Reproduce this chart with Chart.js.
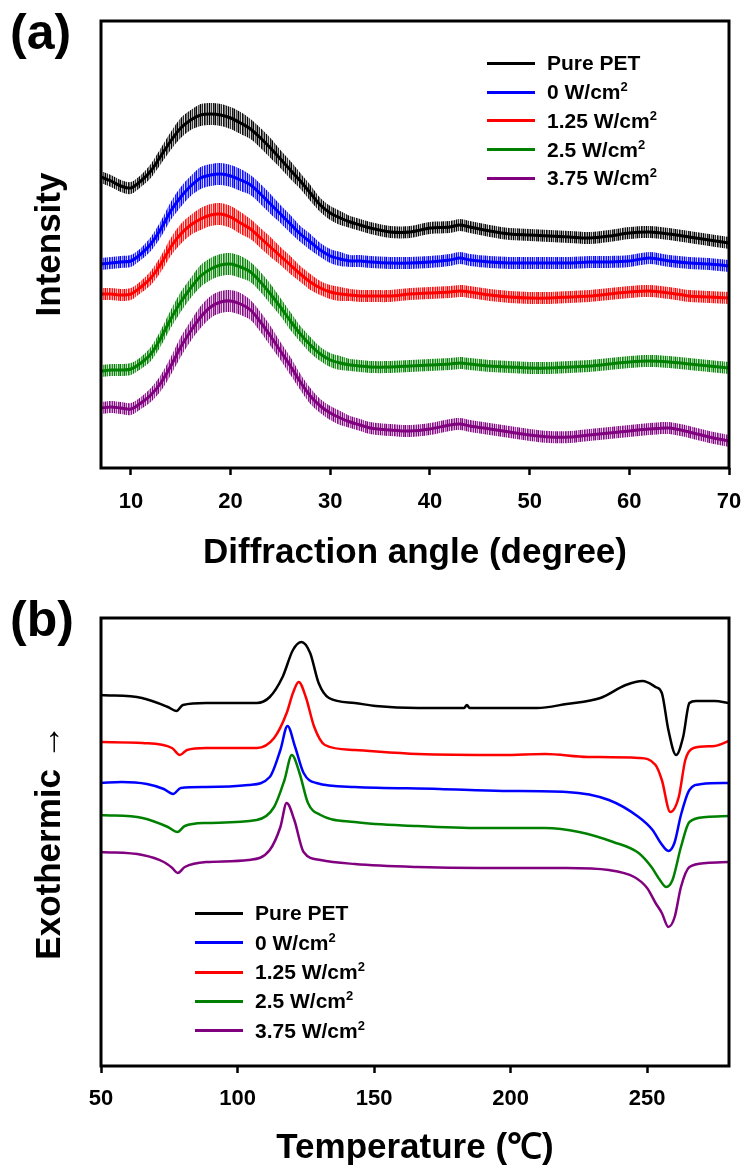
<!DOCTYPE html>
<html>
<head>
<meta charset="utf-8">
<script src="https://cdn.jsdelivr.net/npm/chart.js"></script>
<style>
  body { margin: 0; background: #fff; }
  #page { position: relative; width: 743px; height: 1170px; overflow: hidden;
          font-family: "Liberation Sans", Arial, sans-serif; color: #000; }
  canvas { position: absolute; left: 0; }
  .panel { position: absolute; left: 10px; font-weight: bold; font-size: 50px; line-height: 50px; }
  .leg { position: absolute; height: 24px; display: flex; align-items: center;
         font-weight: bold; font-size: 21px; white-space: nowrap; }
  .leg i { display: block; width: 48px; height: 3px; margin-right: 12px; }
  .leg sup { font-size: 13px; line-height: 0; vertical-align: 8px; }
</style>
</head>
<body>
<div id="page">
  <div class="panel" style="top:7px">(a)</div>
  <div class="panel" style="top:594px">(b)</div>
  <canvas id="xrd" width="743" height="590" style="top:0"></canvas>
  <canvas id="dsc" width="743" height="580" style="top:590px"></canvas>
</div>
<script>
const FONT = '"Liberation Sans", Arial, sans-serif';

const seriesNames = ['Pure PET', '0 W/cm²', '1.25 W/cm²', '2.5 W/cm²', '3.75 W/cm²'];
const seriesColors = ['#000000', '#0000ff', '#ff0000', '#008000', '#800080'];

// (a) XRD, intensity in arbitrary units (offset stacked as in the figure)
const xrdTicks = [10, 20, 30, 40, 50, 60, 70];
const angles = [7, 8, 9, 10, 11, 12, 13, 14, 15, 16, 17, 18, 19, 20, 21, 22, 23, 24, 25, 26,
  27, 28, 29, 30, 31, 32, 33, 34, 36, 38, 40, 42, 43, 44, 46, 48, 50, 52, 54, 56, 58, 60, 62, 64, 66, 68, 70];
const xrdPure = [291, 287, 282, 280, 287, 297, 312, 327, 340, 348, 353, 354, 353, 350, 345, 339, 330, 320, 309, 298,
  287, 275, 263, 255, 250, 246, 243, 240, 236, 236, 240, 241, 243, 241, 237, 234, 233, 232, 231, 230, 232, 235, 236, 234, 231, 228, 225];
const xrd0 = [204, 205, 206, 207, 214, 224, 239, 257, 271, 282, 290, 293, 294, 292, 288, 283, 274, 264, 254, 244,
  234, 226, 218, 212, 209, 207, 207, 206, 205, 205, 206, 208, 210, 208, 206, 205, 205, 205, 205, 206, 206, 207, 210, 207, 205, 204, 202];
const xrd125 = [174, 174, 173, 174, 181, 190, 204, 221, 234, 243, 249, 253, 254, 251, 245, 239, 230, 221, 212, 203,
  194, 186, 180, 176, 174, 173, 172, 172, 172, 174, 175, 176, 177, 176, 173, 171, 170, 170, 171, 172, 174, 176, 177, 175, 172, 171, 170];
const xrd25 = [97, 98, 98, 99, 105, 114, 130, 149, 166, 180, 192, 199, 203, 204, 201, 196, 186, 174, 161, 147,
  134, 123, 114, 108, 105, 103, 102, 101, 101, 102, 103, 104, 105, 104, 102, 101, 100, 100, 101, 102, 104, 106, 107, 106, 104, 102, 100];
const xrd375 = [60, 61, 60, 59, 65, 73, 85, 102, 121, 137, 151, 161, 166, 167, 164, 158, 146, 132, 117, 102,
  86, 72, 62, 55, 50, 46, 43, 40, 38, 37, 39, 43, 44, 42, 39, 36, 33, 31, 31, 33, 35, 37, 39, 40, 36, 31, 27];
// half width of the noise band seen around each trace
const xrdNoise = [6, 6, 6, 6, 6, 7, 8, 9, 10, 10, 11, 11, 11, 11, 11, 10, 10, 10, 9, 9,
  8, 8, 7, 7, 7, 6, 6, 6, 6, 6, 6, 6, 6, 6, 6, 6, 6, 6, 6, 6, 6, 6, 6, 6, 6, 6, 6];

// (b) DSC, heat flow in arbitrary units (offset stacked)
const dscTicks = [50, 100, 150, 200, 250];
const tPure = [50, 65, 74.5, 77.6, 80, 88.5, 107, 111.8, 116.5, 120.3, 123.4, 126.6, 129.7, 133.5, 142.9, 150.6, 166,
  183, 184, 185, 189.4, 209.6, 220.5, 232.9, 242.2, 248.4, 253.1, 255.4, 257.8, 260.6, 263.2, 265.5, 267.9, 274.8, 280];
const dscPure = [371, 368, 359, 355, 361, 363, 363, 369, 389, 416, 424, 413, 383, 368, 363, 360, 358,
  358, 361, 358, 358, 358, 362, 368, 381, 385, 379, 373, 336, 311, 329, 363, 365, 365, 363];
const t0 = [50, 57.5, 66.8, 73, 76.4, 79.2, 88.5, 104, 111.8, 115.7, 118.3, 121.1, 124.2, 128.9, 142.9, 173.9,
  197.2, 220.5, 236, 246.9, 252, 255, 257.8, 260, 262.4, 265.5, 270, 280];
const dsc0 = [283, 284, 282, 277, 272, 278, 279, 281, 289, 316, 340, 319, 293, 283, 279, 277,
  275, 274, 266, 249, 236, 223, 215, 223, 251, 276, 282, 283];
const t125 = [50, 65.2, 76, 78.9, 81.5, 88.5, 107, 113.4, 118, 120.3, 122.4, 125, 128.1, 132, 142.9, 166,
  197.2, 212.7, 228.3, 246.9, 253.1, 255.4, 258.5, 261.6, 264, 267, 274.8, 280];
const dsc125 = [324, 323, 318, 311, 316, 318, 318, 328, 353, 373, 384, 369, 339, 321, 316, 312,
  311, 312, 309, 308, 301, 286, 254, 269, 306, 318, 320, 325];
const t25 = [50, 65.2, 74.5, 78, 80.7, 88.5, 107, 113.4, 117.2, 119.9, 122.7, 125.8, 130.4, 142.9, 166, 189.4,
  212.7, 225.1, 237.6, 246.9, 251.6, 254.7, 257, 259.3, 262.4, 265.5, 271.7, 280];
const dsc25 = [251, 248, 239, 234, 240, 243, 246, 259, 286, 311, 293, 263, 251, 244, 240, 238,
  238, 234, 224, 213, 199, 186, 179, 186, 219, 244, 249, 250];
const t375 = [50, 65.2, 73, 76.1, 78.1, 80.7, 88.5, 104, 111.8, 115.7, 118, 120.8, 124.2, 130.4, 142.9, 166,
  189.4, 220.5, 236, 245.3, 250, 253.1, 255.4, 257.8, 260.1, 262.4, 265.5, 271.7, 280];
const dsc375 = [214, 211, 204, 198, 193, 199, 204, 206, 216, 239, 263, 246, 214, 206, 202, 199,
  198, 198, 196, 189, 178, 163, 153, 139, 149, 179, 199, 203, 204];

const xrdSeries = [xrdPure, xrd0, xrd125, xrd25, xrd375];
const dscSeries = [[tPure, dscPure], [t0, dsc0], [t125, dsc125], [t25, dsc25], [t375, dsc375]];

const boxPlugin = {
  id: 'box',
  afterDraw(chart) {
    const { ctx, chartArea: a } = chart;
    ctx.save();
    ctx.lineWidth = 3;
    ctx.strokeStyle = '#000';
    ctx.strokeRect(a.left, a.top, a.right - a.left, a.bottom - a.top);
    ctx.restore();
  }
};

// vertical stripes of uneven strength, gives the band a grainy look
function stripes(color) {
  const c = document.createElement('canvas');
  const alpha = [1, 0.3, 0.8, 0.15, 0.9, 0.55, 1, 0.2, 0.7, 0.45, 1, 0.35, 0.85, 0.1, 0.95, 0.6, 0.4, 0.9, 0.25];
  c.width = alpha.length;
  c.height = 1;
  const g = c.getContext('2d');
  alpha.forEach((a, i) => {
    g.globalAlpha = a;
    g.fillStyle = color;
    g.fillRect(i, 0, 1, 1);
  });
  return g.createPattern(c, 'repeat');
}

function makeOptions(o) {
  return {
    responsive: false,
    animation: false,
    layout: { padding: { top: o.top, right: 14, left: 0, bottom: 0 } },
    plugins: { legend: { display: false }, tooltip: { enabled: false } },
    elements: { point: { radius: 0 } },
    scales: {
      x: {
        type: 'linear', min: o.xmin, max: o.xmax,
        afterBuildTicks: s => { s.ticks = o.ticks.map(v => ({ value: v })); },
        afterFit: s => { s.height = o.xh; s.paddingLeft = 0; s.paddingRight = 0; },
        grid: { drawOnChartArea: false, drawTicks: true, tickLength: 7, tickWidth: 2.5, tickColor: '#000' },
        border: { display: false },
        ticks: { color: '#000', padding: o.tickPad, maxRotation: 0,
                 font: { family: FONT, size: 22, weight: 'bold' } },
        title: { display: true, text: o.xtitle, color: '#000', padding: { top: 0, bottom: o.titlePad },
                 font: { family: FONT, size: 35, weight: 'bold', lineHeight: 1.2 } }
      },
      y: {
        min: 0, max: o.ymax,
        afterFit: s => { s.width = 101; },
        grid: { display: false },
        border: { display: false },
        ticks: { display: false },
        title: { display: true, text: o.ytitle, color: '#000', padding: { top: 29, bottom: 0 },
                 font: { family: FONT, size: 35, weight: 'bold', lineHeight: 1.2 } }
      }
    }
  };
}

// XRD: each trace drawn as a grainy band between its noise envelopes, plus its mean line
const xrdSets = [];
xrdSeries.forEach((vals, i) => {
  const c = seriesColors[i];
  const pat = stripes(c);
  xrdSets.push({
    label: seriesNames[i] + ' high',
    data: angles.map((a, k) => ({ x: a, y: vals[k] + xrdNoise[k] })),
    borderWidth: 0, backgroundColor: pat, fill: '+1', tension: 0.3
  });
  xrdSets.push({
    label: seriesNames[i] + ' low',
    data: angles.map((a, k) => ({ x: a, y: vals[k] - xrdNoise[k] })),
    borderWidth: 0, fill: false, tension: 0.3
  });
  xrdSets.push({
    label: seriesNames[i],
    data: angles.map((a, k) => ({ x: a, y: vals[k] })),
    borderColor: c, borderWidth: 3, fill: false, tension: 0.3
  });
});

new Chart(document.getElementById('xrd'), {
  type: 'line',
  data: { datasets: xrdSets },
  options: makeOptions({ top: 21, xmin: 7, xmax: 70, ticks: xrdTicks, xh: 122, ymax: 447,
    tickPad: 14, titlePad: 16, xtitle: 'Diffraction angle (degree)', ytitle: 'Intensity' }),
  plugins: [boxPlugin]
});

new Chart(document.getElementById('dsc'), {
  type: 'line',
  data: {
    datasets: dscSeries.map(([t, v], i) => ({
      label: seriesNames[i],
      data: t.map((x, k) => ({ x: x, y: v[k] })),
      borderColor: seriesColors[i], borderWidth: 2.5, fill: false,
      tension: 0.4, cubicInterpolationMode: 'monotone'
    }))
  },
  options: makeOptions({ top: 28, xmin: 50, xmax: 280, ticks: dscTicks, xh: 104, ymax: 448,
    tickPad: 13, titlePad: 1, xtitle: 'Temperature (℃)', ytitle: 'Exothermic →' }),
  plugins: [boxPlugin]
});

// legends (html so the superscript can be set)
function legend(left, firstY, step) {
  const page = document.getElementById('page');
  seriesNames.forEach((name, i) => {
    const row = document.createElement('div');
    row.className = 'leg';
    row.style.left = left + 'px';
    row.style.top = (firstY + i * step - 12) + 'px';
    const mark = document.createElement('i');
    mark.style.background = seriesColors[i];
    const txt = document.createElement('span');
    txt.innerHTML = name.replace('²', '<sup>2</sup>');
    row.appendChild(mark);
    row.appendChild(txt);
    page.appendChild(row);
  });
}
legend(487, 63.3, 28.75);
legend(195, 913.3, 29.35);
</script>
</body>
</html>
